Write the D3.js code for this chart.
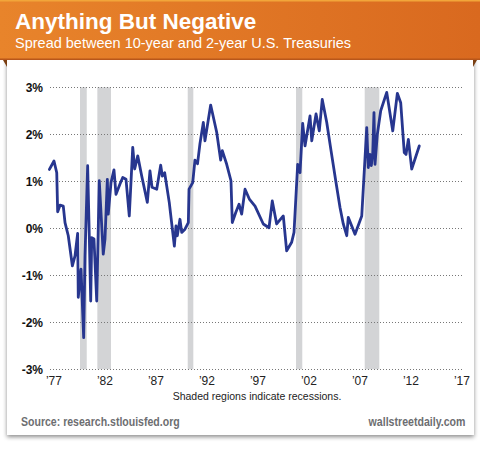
<!DOCTYPE html>
<html>
<head>
<meta charset="utf-8">
<script src="https://cdn.jsdelivr.net/npm/d3@7"></script>
<style>
  html, body { margin: 0; padding: 0; background: #fff; }
  svg { display: block; }
</style>
</head>
<body>
<svg id="chart" width="480" height="450"></svg>
<script>
// ---- Data ----
const years = [
  1977.0, 1977.45, 1977.72, 1977.81, 1978.04, 1978.36, 1978.53, 1978.85, 1979.25, 1979.51,
  1979.77, 1979.83, 1980.10, 1980.36, 1980.49, 1980.75, 1980.91, 1981.05, 1981.15, 1981.37,
  1981.64, 1981.89, 1982.28, 1982.45, 1982.68, 1982.77, 1983.04, 1983.33, 1983.53, 1983.92,
  1984.19, 1984.51, 1984.83, 1985.17, 1985.36, 1985.66, 1986.05, 1986.60, 1986.86, 1987.06,
  1987.52, 1987.91, 1988.07, 1988.30, 1988.75, 1989.25, 1989.41, 1989.54, 1989.80, 1989.97,
  1990.29, 1990.62, 1990.69, 1991.05, 1991.27, 1991.52, 1991.76, 1992.09, 1992.25, 1992.81,
  1993.40, 1993.79, 1993.95, 1994.38, 1994.80, 1994.93, 1995.26, 1995.59, 1995.85, 1996.18,
  1996.60, 1997.16, 1997.97, 1998.53, 1998.85, 1999.28, 1999.93, 2000.26, 2000.75, 2000.98,
  2001.34, 2001.57, 2001.83, 2002.06, 2002.55, 2002.72, 2003.14, 2003.46, 2003.75, 2004.19,
  2004.61, 2005.07, 2005.49, 2005.81, 2006.15, 2006.30, 2006.96, 2007.62, 2008.11, 2008.26,
  2008.43, 2008.56, 2008.70, 2008.82, 2008.92, 2009.15, 2009.48, 2010.07, 2010.66, 2011.11,
  2011.44, 2011.79, 2011.96, 2012.19, 2012.52, 2013.26
];
const spread = [
  1.25, 1.43, 1.18, 0.35, 0.49, 0.47, 0.12, -0.16, -0.80, -0.59,
  -0.11, -1.47, -0.87, -2.33, -0.59, 1.33, -0.16, -1.55, -0.20, -0.23,
  -1.55, 1.01, -0.55, -0.23, 1.04, 0.30, 0.97, 1.24, 0.72, 0.94,
  1.08, 1.04, 0.26, 1.72, 1.26, 1.54, 1.11, 0.55, 1.22, 0.87,
  0.83, 1.34, 1.11, 1.18, 0.55, -0.38, 0.05, -0.16, 0.19, -0.09,
  -0.02, 0.12, 0.83, 0.97, 1.45, 1.37, 1.80, 2.25, 1.86, 2.62,
  2.04, 1.45, 1.65, 1.36, 1.01, 0.12, 0.33, 0.51, 0.30, 0.83,
  0.62, 0.47, 0.09, 0.01, 0.58, 0.09, 0.26, -0.48, -0.30, -0.09,
  1.36, 1.18, 2.23, 1.75, 2.39, 1.86, 2.43, 2.07, 2.74, 2.25,
  1.65, 1.01, 0.44, 0.09, -0.16, 0.23, -0.13, 0.26, 2.14, 1.29,
  1.57, 1.33, 1.61, 2.46, 1.36, 2.00, 2.50, 2.89, 2.07, 2.87,
  2.67, 1.61, 1.57, 1.89, 1.26, 1.75
];
const recessionStart = [1980.0, 1981.7, 1990.56, 2001.18, 2007.91];
const recessionEnd   = [1980.66, 1983.04, 1991.11, 2001.79, 2009.34];
const yTicks = [3, 2, 1, 0, -1, -2, -3];
const xTickYears = [1977, 1982, 1987, 1992, 1997, 2002, 2007, 2012, 2017];
const xTickLabels = ["\u201977", "\u201982", "\u201987", "\u201992", "\u201997", "\u201902", "\u201907", "\u201912", "\u201917"];

const title = "Anything But Negative";
const subtitle = "Spread between 10-year and 2-year U.S. Treasuries";
const note = "Shaded regions indicate recessions.";
const source = "Source: research.stlouisfed.org";
const brand = "wallstreetdaily.com";

// ---- Drawing ----
const svg = d3.select("#chart");
const W = 480, H = 450;
const defs = svg.append("defs");

const hg = defs.append("linearGradient").attr("id", "hdr").attr("x1", "0").attr("x2", "1").attr("y1", "0").attr("y2", "0");
hg.append("stop").attr("offset", "0%").attr("stop-color", "#e8842b");
hg.append("stop").attr("offset", "100%").attr("stop-color", "#d9691f");

const sh = defs.append("filter").attr("id", "shadow").attr("x", "-5%").attr("y", "-5%").attr("width", "110%").attr("height", "110%");
sh.append("feDropShadow").attr("dx", 0).attr("dy", 2).attr("stdDeviation", 2).attr("flood-color", "#000").attr("flood-opacity", 0.45);

// white panel with shadow
svg.append("rect").attr("x", 7).attr("y", 55).attr("width", 467).attr("height", 380)
  .attr("fill", "#fff").attr("filter", "url(#shadow)");
svg.append("rect").attr("x", 7).attr("y", 55).attr("width", 467).attr("height", 380)
  .attr("fill", "#fff");

// ribbon folds
svg.append("path").attr("d", "M3,60 L7,60 L7,67 Z").attr("fill", "#7a3f12");
svg.append("path").attr("d", "M477,60 L473,60 L473,67 Z").attr("fill", "#7a3f12");

// header
svg.append("rect").attr("x", 0).attr("y", 0).attr("width", W).attr("height", 60).attr("fill", "url(#hdr)");
svg.append("rect").attr("x", 0).attr("y", 0).attr("width", W).attr("height", 1.5).attr("fill", "#f2a53a");
svg.append("rect").attr("x", 0).attr("y", 58.5).attr("width", W).attr("height", 1.5).attr("fill", "#b8561a");

svg.append("text").attr("x", 15).attr("y", 28.5).text(title)
  .attr("font-family", "'Liberation Sans', Arial, sans-serif").attr("font-weight", "bold")
  .attr("font-size", 22.5).attr("fill", "#fff");
svg.append("text").attr("x", 15).attr("y", 47.5).text(subtitle)
  .attr("font-family", "'Liberation Sans', Arial, sans-serif")
  .attr("font-size", 14.5).attr("fill", "#fff");

// scales
const x = d3.scaleLinear().domain([1977, 2017.4]).range([49.4, 461.5]);
const y = d3.scaleLinear().domain([-3, 3]).range([369.2, 87.2]);

// recession bands
svg.append("g").selectAll("rect").data(recessionStart).join("rect")
  .attr("x", (d) => x(d))
  .attr("width", (d, i) => x(recessionEnd[i]) - x(d))
  .attr("y", y(3)).attr("height", y(-3) - y(3))
  .attr("fill", "#d3d4d6");

// gridlines
svg.append("g").selectAll("line").data(yTicks).join("line")
  .attr("x1", 50).attr("x2", 462)
  .attr("y1", (d) => Math.round(y(d)) + 0.5).attr("y2", (d) => Math.round(y(d)) + 0.5)
  .attr("stroke", "#777").attr("stroke-width", 1).attr("stroke-dasharray", "1,2");

// y axis labels
const yAxis = d3.axisLeft(y).tickValues(yTicks).tickSize(0).tickPadding(0)
  .tickFormat((d) => d + "%");
const gy = svg.append("g").attr("transform", "translate(43,0)").call(yAxis);
gy.select(".domain").remove();
gy.selectAll("text").attr("font-family", "'Liberation Sans', Arial, sans-serif")
  .attr("font-weight", "bold").attr("font-size", 12).attr("fill", "#111");

// x axis labels
const xAxis = d3.axisBottom(x).tickValues(xTickYears).tickSize(0).tickPadding(0)
  .tickFormat((d, i) => xTickLabels[i]);
const gx = svg.append("g").attr("transform", "translate(4,376)").call(xAxis);
gx.select(".domain").remove();
gx.selectAll("text").attr("font-family", "'Liberation Sans', Arial, sans-serif")
  .attr("font-size", 12).attr("fill", "#222");

// line
const line = d3.line().x((d, i) => x(years[i])).y((d) => y(d)).curve(d3.curveLinear);
svg.append("path").datum(spread).attr("d", line)
  .attr("fill", "none").attr("stroke", "#27368f").attr("stroke-width", 2.8)
  .attr("stroke-linejoin", "round").attr("stroke-linecap", "round");

// note
svg.append("text").attr("x", 257).attr("y", 400).attr("text-anchor", "middle").text(note)
  .attr("font-family", "'Liberation Sans', Arial, sans-serif").attr("font-size", 10.5).attr("fill", "#222");

// footer (condensed via horizontal scaling)
function condensedText(str, xPos, anchor, targetWidth) {
  const t = svg.append("text").attr("x", 0).attr("y", 0).attr("text-anchor", anchor).text(str)
    .attr("font-family", "'Liberation Sans', Arial, sans-serif")
    .attr("font-weight", "bold").attr("font-size", 12.5).attr("fill", "#6d6e71");
  const len = t.node().getComputedTextLength();
  const k = targetWidth / len;
  t.attr("transform", `translate(${xPos},426) scale(${k},1)`);
  return t;
}
condensedText(source, 21, "start", 159);
condensedText(brand, 465.5, "end", 97);
</script>
</body>
</html>
